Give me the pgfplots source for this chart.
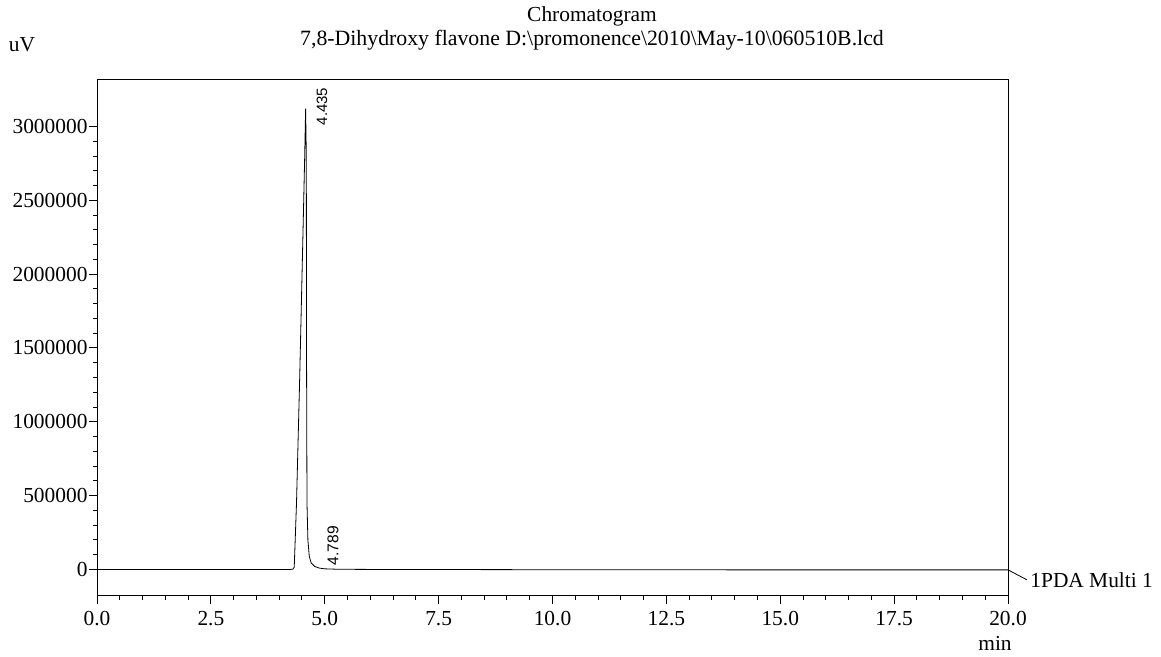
\documentclass[border=0pt]{standalone}
\usepackage{pgfplots}
\pgfplotsset{compat=1.18}
\usepackage{fontspec}
\setmainfont{Liberation Serif}
\newfontfamily\labfont{Liberation Sans}

\begin{document}
\fontsize{10.7pt}{12.8pt}\selectfont
\begin{tikzpicture}
\begin{axis}[
  scale only axis, width=455.5pt, height=258pt,
  xmin=0, xmax=20, ymin=-180000, ymax=3315000,
  xtick={0,2.5,5,7.5,10,12.5,15,17.5,20}, minor x tick num=4,
  ytick={0,500000,1000000,1500000,2000000,2500000,3000000}, minor y tick num=4,
  xtick pos=bottom, ytick pos=left, tick align=outside,
  major tick length=4pt, minor tick length=2pt,
  scaled ticks=false,
  xticklabel style={/pgf/number format/.cd, fixed, fixed zerofill, precision=1},
  yticklabel style={xshift=3pt, /pgf/number format/.cd, fixed, 1000 sep={}},
  /pgf/number format/assume math mode=true,
  axis line style={line width=0.5pt},
  every tick/.style={black, line width=0.5pt},
  clip=false,
]
\addplot[black, line width=0.4pt] coordinates {
(0,0) (1,-1000) (2,0) (3,-1000) (4,0) (4.25,0) (4.30,2000) (4.33,15000)
(4.38,450000) (4.45,1300000) (4.52,2250000) (4.56,2800000) (4.58,3121000)
(4.595,2800000) (4.60,1500000) (4.61,450000) (4.63,200000) (4.66,90000)
(4.70,45000) (4.78,20000) (4.88,9000) (5.0,4000) (5.3,1000) (6.0,0)
(8,-1000) (10,-2000) (12,-2000) (14,-3000) (16,-3000) (18,-3000) (20,-3000)
};
\node[rotate=90, anchor=west, inner sep=0pt, font=\labfont\fontsize{7.5pt}{9pt}\selectfont]
  at (axis cs:4.94,3006000) {4.435};
\node[rotate=90, anchor=west, inner sep=0pt, font=\labfont\fontsize{7.8pt}{9pt}\selectfont]
  at (axis cs:5.18,27000) {4.789};
\draw[line width=0.4pt] (axis cs:20,-3000) -- ++(9.5pt,-5pt) node[anchor=west, inner sep=1.5pt] {1PDA Multi 1};
\end{axis}
\node[anchor=base] at (247.5pt,287pt) {Chromatogram};
\node[anchor=base] at (247.5pt,275pt) {\fontsize{10.9pt}{13pt}\selectfont 7,8-Dihydroxy flavone D:\textbackslash promonence\textbackslash 2010\textbackslash May-10\textbackslash 060510B.lcd};
\node at (-37.5pt,275.5pt) {uV};
\node at (449pt,-23.5pt) {min};
\pgfresetboundingbox
\path[use as bounding box] (-48.5pt,-30.5pt) rectangle (532pt,298pt);
\end{tikzpicture}
\end{document}
